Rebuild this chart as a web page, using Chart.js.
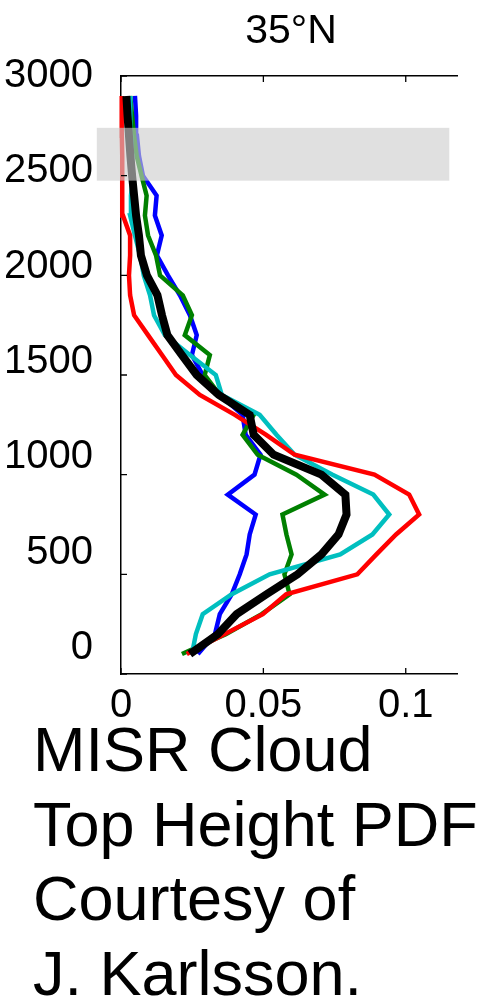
<!DOCTYPE html>
<html>
<head>
<meta charset="utf-8">
<script src="https://cdn.jsdelivr.net/npm/chart.js@4/dist/chart.umd.min.js"></script>
<style>
  html, body { margin: 0; padding: 0; background: #fff; }
  #wrap { width: 489px; height: 999px; }
</style>
</head>
<body>
<div id="wrap"><canvas id="pdf" width="489" height="999"></canvas></div>
<script>
// Cloud-top heights (m) of the histogram bins
const heights = [100, 200, 300, 400, 500, 600, 700, 800, 900, 1000,
                 1100, 1200, 1300, 1400, 1500, 1600, 1700, 1800, 1900, 2000,
                 2100, 2200, 2300, 2400, 2500, 2600, 2700, 2800, 2900];

// Probability density per bin for each curve
const bluePdf  = [0.0270, 0.0330, 0.0347, 0.0389, 0.0417, 0.0441, 0.0452, 0.0473, 0.0375, 0.0469,
                  0.0490, 0.0438, 0.0427, 0.0347, 0.0287, 0.0249, 0.0266, 0.0242, 0.0207, 0.0165,
                  0.0126, 0.0143, 0.0119, 0.0125, 0.0077, 0.0063, 0.0056, 0.0053, 0.0049];
const greenPdf = [0.0214, 0.0368, 0.0494, 0.0592, 0.0574, 0.0599, 0.0581, 0.0567, 0.0715, 0.0616,
                  0.0480, 0.0427, 0.0466, 0.0347, 0.0294, 0.0312, 0.0224, 0.0249, 0.0217, 0.0137,
                  0.0123, 0.0095, 0.0084, 0.0090, 0.0072, 0.0055, 0.0046, 0.0039, 0.0032];
const cyanPdf  = [0.0249, 0.0263, 0.0287, 0.0389, 0.0522, 0.0770, 0.0883, 0.0942, 0.0886, 0.0743,
                  0.0610, 0.0546, 0.0487, 0.0354, 0.0333, 0.0242, 0.0154, 0.0116, 0.0102, 0.0080,
                  0.0067, 0.0049, 0.0032, 0.0035, 0.0042, 0.0039, 0.0035, 0.0033, 0.0032];
const redPdf   = [0.0231, 0.0364, 0.0498, 0.0580, 0.0830, 0.0897, 0.0966, 0.1047, 0.1012, 0.0890,
                  0.0610, 0.0510, 0.0400, 0.0277, 0.0193, 0.0144, 0.0095, 0.0046, 0.0032, 0.0028,
                  0.0032, 0.0032, 0.0007, 0.0005, 0.0004, 0.0004, 0.0003, 0.0003, 0.0002];
const meanPdf  = [0.0242, 0.0340, 0.0406, 0.0511, 0.0620, 0.0704, 0.0764, 0.0792, 0.0788, 0.0704,
                  0.0536, 0.0466, 0.0452, 0.0343, 0.0266, 0.0214, 0.0163, 0.0144, 0.0128, 0.0091,
                  0.0070, 0.0063, 0.0053, 0.0046, 0.0039, 0.0033, 0.0028, 0.0023, 0.0019];

// Axis ticks
const yTickValues = [0, 500, 1000, 1500, 2000, 2500, 3000];
const yTickLabels = ['0', '500', '1000', '1500', '2000', '2500', '3000'];
const xTickValues = [0, 0.05, 0.1];
const xTickLabels = ['0', '0.05', '0.1'];

// Shaded height layer
const bandHeights = [2475, 2740];
const bandPdfRange = [-0.0085, 0.1153];

const titleText = '35°N';
const captionLines = ['MISR Cloud', 'Top Height PDF', 'Courtesy of', 'J. Karlsson.'];

const FONT = '"Liberation Sans", Arial, Helvetica, sans-serif';

function series(values) {
  return values.map((v, i) => ({ x: v, y: heights[i] }));
}

const decorations = {
  id: 'decorations',
  afterDatasetsDraw(chart) {
    const { ctx, scales } = chart;
    const x = scales.x, y = scales.y;
    ctx.save();
    // translucent grey layer over the curves
    const bx0 = x.getPixelForValue(bandPdfRange[0]);
    const bx1 = x.getPixelForValue(bandPdfRange[1]);
    const by0 = y.getPixelForValue(bandHeights[1]);
    const by1 = y.getPixelForValue(bandHeights[0]);
    ctx.fillStyle = 'rgba(205,205,205,0.62)';
    ctx.fillRect(bx0, by0, bx1 - bx0, by1 - by0);

    // inward tick marks
    ctx.strokeStyle = '#000';
    ctx.lineWidth = 1.3;
    ctx.beginPath();
    const left = chart.chartArea.left;
    yTickValues.forEach(v => {
      const py = y.getPixelForValue(v);
      ctx.moveTo(left, py);
      ctx.lineTo(left + 6, py);
    });
    const top = chart.chartArea.top, bottom = chart.chartArea.bottom;
    xTickValues.forEach(v => {
      const px = x.getPixelForValue(v);
      ctx.moveTo(px, bottom);
      ctx.lineTo(px, bottom - 6);
      ctx.moveTo(px, top);
      ctx.lineTo(px, top + 6);
    });
    ctx.stroke();
    ctx.restore();
  },
  afterDraw(chart) {
    const { ctx } = chart;
    ctx.save();
    ctx.fillStyle = '#000';
    ctx.textBaseline = 'alphabetic';
    ctx.textAlign = 'center';
    ctx.font = '41px ' + FONT;
    ctx.fillText(titleText, 291, 43);
    ctx.textAlign = 'left';
    ctx.font = '63px ' + FONT;
    const baselines = [771, 846, 920, 995];
    captionLines.forEach((line, i) => ctx.fillText(line, 33, baselines[i]));
    ctx.restore();
  }
};

const lineStyle = (color, width) => ({
  borderColor: color,
  backgroundColor: color,
  borderWidth: width,
  pointRadius: 0,
  pointHoverRadius: 0,
  tension: 0,
  fill: false,
  clip: false
});

new Chart(document.getElementById('pdf'), {
  type: 'line',
  data: {
    datasets: [
      Object.assign({ label: 'mean', data: series(meanPdf) }, lineStyle('#000000', 8)),
      Object.assign({ label: 'red', data: series(redPdf) }, lineStyle('#ff0000', 4.5)),
      Object.assign({ label: 'cyan', data: series(cyanPdf) }, lineStyle('#00bfbf', 4.5)),
      Object.assign({ label: 'green', data: series(greenPdf) }, lineStyle('#008000', 4.5)),
      Object.assign({ label: 'blue', data: series(bluePdf) }, lineStyle('#0000ff', 4.5))
    ]
  },
  options: {
    indexAxis: 'y',
    responsive: false,
    animation: false,
    devicePixelRatio: 1,
    layout: { padding: { top: 76, right: 32, bottom: 270, left: 0 } },
    plugins: {
      legend: { display: false },
      title: { display: false },
      tooltip: { enabled: false }
    },
    scales: {
      x: {
        type: 'linear',
        position: 'bottom',
        min: 0,
        max: 0.118,
        afterBuildTicks: s => { s.ticks = xTickValues.map(v => ({ value: v })); },
        afterFit: s => { s.height = 55; },
        ticks: {
          color: '#000',
          padding: 8,
          maxRotation: 0,
          autoSkip: false,
          font: { size: 40, family: FONT },
          callback: (value, index) => xTickLabels[index]
        },
        grid: { display: false, drawTicks: false },
        border: { display: true, color: '#000', width: 1.5 }
      },
      xTop: {
        type: 'linear',
        position: 'top',
        min: 0,
        max: 0.118,
        afterFit: s => { s.height = 0; },
        ticks: { display: false },
        grid: { display: false, drawTicks: false },
        border: { display: true, color: '#000', width: 1.5 }
      },
      y: {
        type: 'linear',
        position: 'left',
        weight: 0,
        min: 0,
        max: 3000,
        afterBuildTicks: s => { s.ticks = yTickValues.map(v => ({ value: v })); },
        afterFit: s => { s.width = 0; },
        ticks: { display: false },
        grid: { display: false, drawTicks: false },
        border: { display: true, color: '#000', width: 1.5 }
      },
      yLabels: {
        type: 'linear',
        position: 'left',
        weight: 1,
        min: -136,
        max: 3000,
        afterBuildTicks: s => { s.ticks = yTickValues.map(v => ({ value: v })); },
        afterFit: s => { s.width = 121; },
        ticks: {
          color: '#000',
          padding: 28,
          autoSkip: false,
          font: { size: 40, family: FONT },
          callback: (value, index) => yTickLabels[index]
        },
        grid: { display: false, drawTicks: false },
        border: { display: false }
      }
    }
  },
  plugins: [decorations]
});
</script>
</body>
</html>
